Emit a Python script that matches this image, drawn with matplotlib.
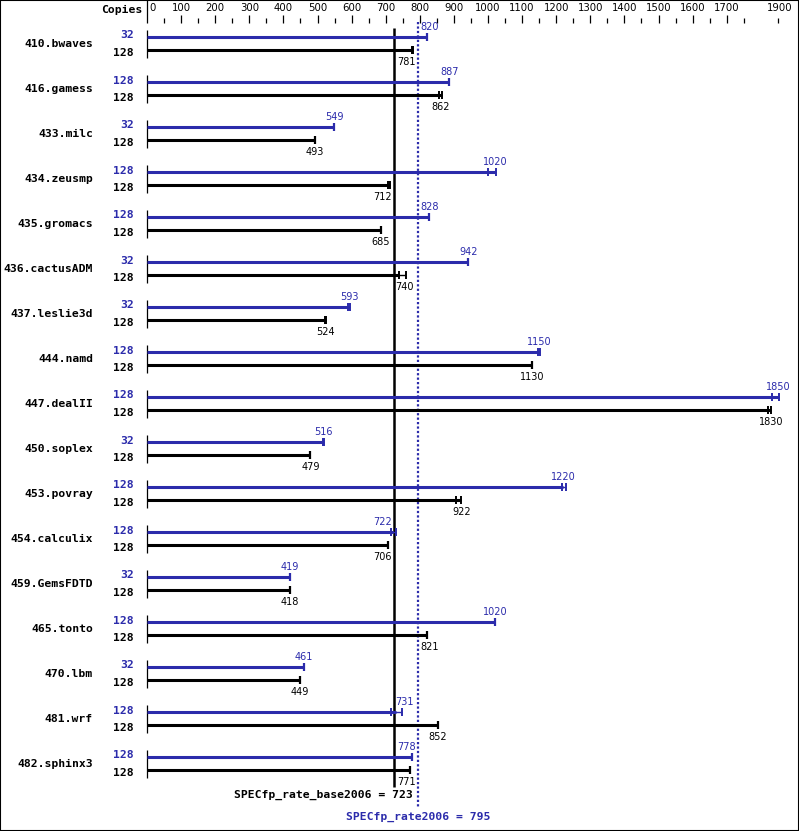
import matplotlib
matplotlib.use("Agg")
import matplotlib.pyplot as plt
from matplotlib.patches import Rectangle

# ---- data ----
benchmarks = ["410.bwaves", "416.gamess", "433.milc", "434.zeusmp", "435.gromacs",
              "436.cactusADM", "437.leslie3d", "444.namd", "447.dealII", "450.soplex",
              "453.povray", "454.calculix", "459.GemsFDTD", "465.tonto", "470.lbm",
              "481.wrf", "482.sphinx3"]
peak_copies = [32, 128, 32, 128, 128, 32, 32, 128, 128, 32, 128, 128, 32, 128, 32, 128, 128]
base_copies = [128] * 17

peak_vals = [820, 887, 549, 1020, 828, 942, 593, 1150, 1850, 516, 1220, 722, 419, 1020, 461, 731, 778]
peak_lo = [820, 887, 549, 1000, 828, 942, 590, 1147, 1834, 515, 1218, 717, 419, 1020, 461, 716, 778]
peak_hi = [820, 887, 549, 1022, 828, 942, 595, 1152, 1853, 520, 1230, 729, 419, 1020, 461, 749, 778]

base_vals = [781, 862, 493, 712, 685, 740, 524, 1130, 1830, 479, 922, 706, 418, 821, 449, 852, 771]
base_lo = [776, 857, 493, 708, 685, 740, 522, 1130, 1822, 479, 905, 706, 418, 821, 449, 852, 771]
base_hi = [781, 866, 493, 714, 685, 760, 526, 1130, 1830, 479, 922, 706, 418, 821, 449, 852, 771]

base_score = 723
peak_score = 795
tick_vals = list(range(0, 1800, 100))

BLUE = "#2b2bab"
BLACK = "#000000"

# ---- layout (pixels) ----
W, H = 799, 831
X0 = 147          # pixel of value 0
SCALE = 0.341     # pixels per unit
ROW0 = 37.3       # first peak bar y
PITCH = 45.0
SUB = 12.7        # offset peak -> base bar

fig = plt.figure(figsize=(W / 100, H / 100), dpi=100)
ax = fig.add_axes([0, 0, 1, 1])
ax.set_xlim(-X0 / SCALE, (W - X0) / SCALE)
ax.set_ylim(H, 0)
ax.axis("off")


def px(p):
    """pixel width -> data units"""
    return p / SCALE


ax.add_patch(Rectangle((0, 0), 1, 1, transform=ax.transAxes, fill=False,
                       lw=1.5, edgecolor="black", clip_on=False))

mono = dict(family="DejaVu Sans Mono", fontweight="bold", fontsize=8.2)

# top scale
ax.vlines(0, 0, 22.7, color="black", lw=0.9)
for t in tick_vals[1:]:
    ax.vlines(t, 15, 22.7, color="black", lw=0.9)
for t in range(50, 1900, 100):
    ax.vlines(t, 18, 22.7, color="black", lw=0.9)
for t in tick_vals:
    ax.text(t + (px(2) if t == 0 else 0), 8, str(t), ha="left" if t == 0 else "center",
            va="center", fontsize=7.3, family="DejaVu Sans")
ax.text(px(793 - X0), 8, "1900", ha="right", va="center", fontsize=7.3, family="DejaVu Sans")
ax.text(-px(5), 10, "Copies", ha="right", va="center", **mono)

# score lines
ax.vlines(base_score, 28, 787, color="black", lw=1.8)
ax.vlines(peak_score, 22, 807, color=BLUE, lw=1.6, linestyles=(0, (1, 1)))
ax.text(px(413 - X0), 795, f"SPECfp_rate_base2006 = {base_score}", ha="right", va="center",
        color="black", **mono)
ax.text(peak_score, 817, f"SPECfp_rate2006 = {peak_score}", ha="center", va="center",
        color=BLUE, **mono)


def label_x(v, text):
    w = px(len(text) * 5.9)
    gap = px(2.5)
    c = v
    for line in (base_score, peak_score):
        if abs(c - line) < w / 2 + gap:
            c = line - gap - w / 2 if v < line else line + gap + w / 2
    return c


def draw_bar(y, val, lo, hi, color, label_dy):
    ax.hlines(y, 0, val, color=color, lw=2.2)
    if hi > lo:
        ax.hlines(y, lo, hi, color=color, lw=1.0)
        ax.vlines([lo, hi], y - 4, y + 4, color=color, lw=1.4)
    else:
        ax.vlines(val, y - 4, y + 4, color=color, lw=1.6)
    txt = str(val)
    ax.text(label_x(val, txt), y + label_dy, txt, ha="center", va="center",
            color=color, fontsize=7, family="DejaVu Sans")


for i, name in enumerate(benchmarks):
    yp = ROW0 + PITCH * i
    yb = yp + SUB
    ax.vlines(0, yp - 7.3, yb + 7.7, color="black", lw=0.9)
    ax.text(-px(54), (yp + yb) / 2, name, ha="right", va="center", color="black", **mono)
    ax.text(-px(13), yp - 1.8, str(peak_copies[i]), ha="right", va="center", color=BLUE, **mono)
    ax.text(-px(13), yb + 2.7, str(base_copies[i]), ha="right", va="center", color="black", **mono)
    draw_bar(yp, peak_vals[i], peak_lo[i], peak_hi[i], BLUE, -10)
    draw_bar(yb, base_vals[i], base_lo[i], base_hi[i], BLACK, 12)

fig.savefig("out.png", dpi=100)
